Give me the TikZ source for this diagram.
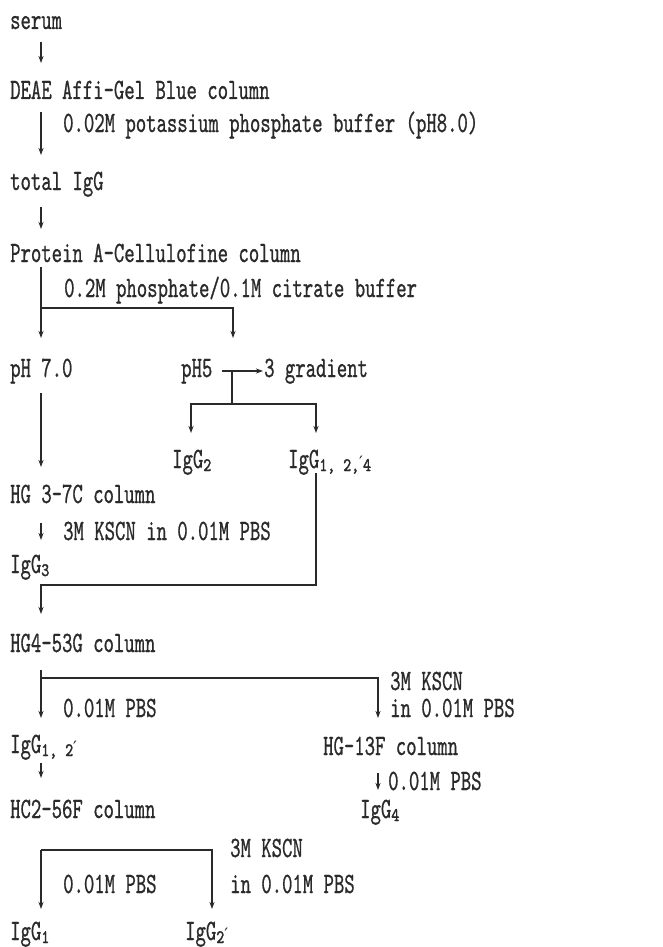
\documentclass[tikz,border=0pt]{standalone}
\usepackage{fontspec}
\usetikzlibrary{arrows.meta,calc}
\newfontfamily\tw[FakeStretch=0.67,FakeBold=0.7]{lmmono10-regular.otf}
\newfontfamily\twsub[FakeStretch=0.8,FakeBold=1.8]{lmmono10-regular.otf}
\newfontfamily\dvs{DejaVu Sans}
\newcommand\sbx[1]{\raisebox{-3pt}{\twsub\fontsize{19}{19}\selectfont #1}}
\newcommand\prm{{\dvs\fontsize{17}{17}\selectfont ′}}
\definecolor{ink}{HTML}{2A2A2A}
\begin{document}
\begin{tikzpicture}[x=1pt,y=-1pt,
  txt/.style={anchor=base west, inner sep=0pt, text=ink, font=\tw\fontsize{29.5}{29.5}\selectfont},
  ln/.style={draw=ink, line width=1.1pt},
  arr/.style={ln, -{Stealth[length=7pt,width=5pt,inset=2pt]}}]
\useasboundingbox[fill=white] (0,0) rectangle (662,947);
% texts
\node[txt] (serum) at (10,29) {serum};
\node[txt] (deae) at (10,99) {DEAE Affi-Gel Blue column};
\node[txt] (buf1) at (63,132) {0.02M potassium phosphate buffer (pH8.0)};
\node[txt] (total) at (10,190) {total IgG};
\node[txt] (prot) at (10,262) {Protein A-Cellulofine column};
\node[txt] (buf2) at (64,297) {0.2M phosphate/0.1M citrate buffer};
\node[txt] (ph7) at (10,377) {pH 7.0};
\node[txt] (ph5) at (181,377) {pH5};
\node[txt] (grad) at (264,377) {3 gradient};
\node[txt] (igg2) at (172,468) {IgG\sbx{2}};
\node[txt] (igg124) at (288,468) {IgG\sbx{1, 2,}\prm\sbx{4}};
\node[txt] (hg37) at (10,503) {HG 3-7C column};
\node[txt] (kscn1) at (63,540) {3M KSCN in 0.01M PBS};
\node[txt] (igg3) at (10,573) {IgG\sbx{3}};
\node[txt] (hg453) at (10,652) {HG4-53G column};
\node[txt] (pbs1) at (63,717) {0.01M PBS};
\node[txt] (kscn2a) at (390,690) {3M KSCN};
\node[txt] (kscn2b) at (390,717) {in 0.01M PBS};
\node[txt] (igg12) at (10,753) {IgG\sbx{1, 2}\prm};
\node[txt] (hg13f) at (323,755) {HG-13F column};
\node[txt] (pbs2) at (388,790) {0.01M PBS};
\node[txt] (hc256) at (10,818) {HC2-56F column};
\node[txt] (igg4) at (360,818) {IgG\sbx{4}};
\node[txt] (kscn3a) at (230,857) {3M KSCN};
\node[txt] (pbs3) at (63,893) {0.01M PBS};
\node[txt] (kscn3b) at (230,893) {in 0.01M PBS};
\node[txt] (igg1) at (10,940) {IgG\sbx{1}};
\node[txt] (igg2p) at (185,940) {IgG\sbx{2}\prm};
% connectors
\draw[arr] ($(serum.base west)+(31,13)$) -- ($(deae.base west)+(31,-36)$);
\draw[arr] ($(deae.base west)+(31,13)$) -- ($(total.base west)+(31,-35)$);
\draw[arr] ($(total.base west)+(31,17)$) -- ($(prot.base west)+(31,-33)$);
\coordinate (br1) at ($(prot.base west)+(31,46)$);
\draw[arr] ($(prot.base west)+(31,5)$) -- ($(ph7.base west)+(31,-39)$);
\draw[arr] (br1) -| ($(ph5.base west)+(52,-39)$);
\draw[arr] ($(ph5.base west)+(41,-6)$) -- ($(grad.base west)+(-1,-6)$);
\coordinate (j) at ($(ph5.base west)+(51,-6)$);
\coordinate (j2) at ($(ph5.base west)+(51,27)$);
\draw[ln] (j) -- (j2);
\draw[arr] (j2) -| ($(igg2.base west)+(19,-35)$);
\draw[arr] (j2) -| ($(igg124.base west)+(28,-35)$);
\draw[arr] ($(ph7.base west)+(31,16)$) -- ($(hg37.base west)+(31,-36)$);
\draw[arr] ($(hg37.base west)+(31,20)$) -- ($(igg3.base west)+(31,-33)$);
\coordinate (bend) at ($(hg453.base west)+(31,-67)$);
\draw[arr] ($(igg124.base west)+(28,5)$) |- (bend) -- ($(hg453.base west)+(31,-38)$);
\coordinate (br2) at ($(hg453.base west)+(31,26)$);
\draw[arr] ($(hg453.base west)+(31,18)$) -- ($(igg12.base west)+(31,-35)$);
\draw[arr] (br2) -| ($(hg13f.base west)+(55,-37)$);
\draw[arr] ($(igg12.base west)+(31,10)$) -- ($(hc256.base west)+(31,-40)$);
\draw[arr] ($(hg13f.base west)+(55,18)$) -- ($(igg4.base west)+(18,-28)$);
\coordinate (br3) at ($(hc256.base west)+(31,32)$);
\draw[arr] (br3) -- ($(igg1.base west)+(31,-31)$);
\draw[arr] (br3) -| ($(igg2p.base west)+(27,-31)$);
\end{tikzpicture}
\end{document}
